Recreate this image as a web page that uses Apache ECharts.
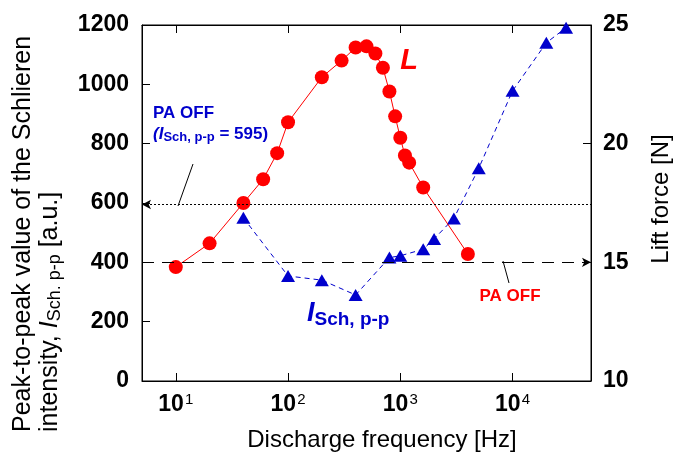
<!DOCTYPE html>
<html>
<head>
<meta charset="utf-8">
<script src="https://cdn.jsdelivr.net/npm/echarts@6/dist/echarts.min.js"></script>
<style>
    html, body { margin: 0; padding: 0; background: #fff; }
    #chart { width: 675px; height: 452px; }
</style>
</head>
<body>
<div id="chart"></div>
<script>
// lift force L [N] (right axis)
const freqL = [10, 20, 40, 60, 80, 100, 200, 300, 400, 500, 600, 700, 800, 900, 1000, 1100, 1200, 1600, 4000];
const liftL = [14.8, 15.8, 17.5, 18.5, 19.6, 20.9, 22.8, 23.5, 24.05, 24.1, 23.8, 23.2, 22.2, 21.15, 20.25, 19.5, 19.2, 18.15, 15.35];

// Schlieren intensity I_Sch,p-p [a.u.] (left axis)
const freqI = [40, 100, 200, 400, 800, 1000, 1600, 2000, 3000, 5000, 10000, 20000, 30000];
const schI = [550, 354, 340, 290, 416, 422, 444, 479, 548, 717, 978, 1140, 1191];

// PA OFF reference levels
const paOffI = 595;
const paOffL = 15;

// labelled decades on the frequency axis
const xDecades = [10, 100, 1000, 10000];

const FONT = '"Liberation Sans", Arial, Helvetica, sans-serif';
const RED = '#ff0000';
const BLUE = '#0000cc';

function decadeLabel(v) {
    let e = Math.log10(v);
    let match = xDecades.some(d => Math.abs(Math.log10(d) - e) < 1e-6);
    if (!match) return '';
    return '{b|10}{s|' + Math.round(e) + '}';
}

let axisLineStyle = { show: true, lineStyle: { color: '#000', width: 1 } };
let tickStyle = { show: true, inside: true, length: 8, lineStyle: { color: '#000' } };
let numLabel = { fontSize: 23, fontWeight: 'bold', fontFamily: FONT, color: '#000', formatter: v => String(v) };

let option = {
    animation: false,
    backgroundColor: '#fff',
    grid: {
        left: 142, right: 84, top: 25, bottom: 71,
        show: true, borderColor: '#000', borderWidth: 1,
        outerBoundsMode: 'none'
    },
    xAxis: [
        {
            type: 'log', logBase: 10, min: 5, max: 50000,
            position: 'bottom',
            axisLine: axisLineStyle,
            axisTick: tickStyle,
            minorTick: { show: false },
            splitLine: { show: false },
            axisLabel: {
                margin: 11,
                formatter: decadeLabel,
                rich: {
                    b: { fontSize: 23, fontWeight: 'bold', fontFamily: FONT, color: '#000', lineHeight: 26, verticalAlign: 'middle' },
                    s: { fontSize: 15, fontFamily: FONT, color: '#000', lineHeight: 14, verticalAlign: 'top', padding: [0, 0, 0, 1] }
                }
            }
        },
        {
            type: 'log', logBase: 10, min: 5, max: 50000,
            position: 'top',
            axisLine: axisLineStyle,
            axisTick: tickStyle,
            splitLine: { show: false },
            axisLabel: { show: false }
        }
    ],
    yAxis: [
        {
            type: 'value', min: 0, max: 1200, interval: 200,
            position: 'left',
            axisLine: axisLineStyle,
            axisTick: tickStyle,
            splitLine: { show: false },
            axisLabel: Object.assign({ margin: 13 }, numLabel)
        },
        {
            type: 'value', min: 10, max: 25, interval: 5,
            position: 'right',
            axisLine: axisLineStyle,
            axisTick: tickStyle,
            splitLine: { show: false },
            axisLabel: Object.assign({ margin: 12 }, numLabel)
        }
    ],
    series: [
        {
            type: 'line',
            name: 'I',
            xAxisIndex: 0, yAxisIndex: 0,
            data: freqI.map((f, i) => [f, schI[i]]),
            symbol: 'triangle',
            symbolSize: [14, 12],
            itemStyle: { color: BLUE },
            lineStyle: { color: BLUE, width: 1, type: [5, 4] },
            z: 2,
            markLine: {
                silent: true,
                symbol: ['arrow', 'none'],
                symbolSize: [7, 9],
                label: { show: false },
                lineStyle: { color: '#000', width: 1, type: [2, 2] },
                data: [[{ coord: [5, paOffI] }, { coord: [50000, paOffI] }]]
            }
        },
        {
            type: 'line',
            name: 'L',
            xAxisIndex: 0, yAxisIndex: 1,
            data: freqL.map((f, i) => [f, liftL[i]]),
            symbol: 'circle',
            symbolSize: 14,
            itemStyle: { color: RED },
            lineStyle: { color: RED, width: 1 },
            z: 3,
            markLine: {
                silent: true,
                symbol: ['none', 'arrow'],
                symbolSize: [7, 9],
                label: { show: false },
                lineStyle: { color: '#000', width: 1, type: [12, 8] },
                data: [[{ coord: [5, paOffL] }, { coord: [50000, paOffL] }]]
            }
        }
    ],
    graphic: [
        // left axis title (two lines, rotated)
        {
            type: 'text', x: 23, y: 432, rotation: Math.PI / 2,
            style: {
                text: 'Peak-to-peak value of the Schlieren',
                fontSize: 25, fontFamily: FONT, fill: '#000',
                align: 'left', verticalAlign: 'middle'
            }
        },
        {
            type: 'text', x: 50, y: 432, rotation: Math.PI / 2,
            style: {
                text: '{n|intensity, }{i|I}{s|Sch. p-p}{n| [a.u.]}',
                fill: '#000', align: 'left', verticalAlign: 'middle',
                rich: {
                    n: { fontSize: 25, fontFamily: FONT, lineHeight: 28, verticalAlign: 'middle' },
                    i: { fontSize: 25, fontFamily: FONT, fontStyle: 'italic', lineHeight: 28, verticalAlign: 'middle' },
                    s: { fontSize: 18, fontFamily: FONT, lineHeight: 14, verticalAlign: 'bottom' }
                }
            }
        },
        // right axis title
        {
            type: 'text', x: 661, y: 199, rotation: Math.PI / 2,
            style: {
                text: 'Lift force [N]',
                fontSize: 24, fontFamily: FONT, fill: '#000',
                align: 'center', verticalAlign: 'middle'
            }
        },
        // x axis title
        {
            type: 'text', x: 382, y: 440,
            style: {
                text: 'Discharge frequency [Hz]',
                fontSize: 24, fontFamily: FONT, fill: '#000',
                align: 'center', verticalAlign: 'middle'
            }
        },
        // series labels
        {
            type: 'text', x: 409, y: 61,
            style: {
                text: 'L', fontSize: 29, fontWeight: 'bold', fontStyle: 'italic',
                fontFamily: FONT, fill: RED, align: 'center', verticalAlign: 'middle'
            }
        },
        {
            type: 'text', x: 307, y: 314,
            style: {
                text: '{i|I}{s|Sch, p-p}',
                fill: BLUE, align: 'left', verticalAlign: 'middle',
                rich: {
                    i: { fontSize: 27, fontWeight: 'bold', fontStyle: 'italic', fontFamily: FONT, lineHeight: 30, verticalAlign: 'middle' },
                    s: { fontSize: 19, fontWeight: 'bold', fontFamily: FONT, lineHeight: 16, verticalAlign: 'bottom' }
                }
            }
        },
        // PA OFF annotations
        {
            type: 'text', x: 153, y: 113,
            style: {
                text: 'PA OFF', fontSize: 17, fontWeight: 'bold', fontFamily: FONT,
                fill: BLUE, align: 'left', verticalAlign: 'middle'
            }
        },
        {
            type: 'text', x: 153, y: 134,
            style: {
                text: '{it|(I}{s|Sch, p-p}{n| = 595)}',
                fill: BLUE, align: 'left', verticalAlign: 'middle',
                rich: {
                    it: { fontSize: 17, fontWeight: 'bold', fontStyle: 'italic', fontFamily: FONT, lineHeight: 20, verticalAlign: 'middle' },
                    s: { fontSize: 13, fontWeight: 'bold', fontFamily: FONT, lineHeight: 12, verticalAlign: 'bottom' },
                    n: { fontSize: 17, fontWeight: 'bold', fontFamily: FONT, lineHeight: 20, verticalAlign: 'middle' }
                }
            }
        },
        {
            type: 'line', shape: { x1: 193, y1: 164, x2: 178, y2: 206 },
            style: { stroke: '#000', lineWidth: 1 }
        },
        {
            type: 'text', x: 510, y: 296,
            style: {
                text: 'PA OFF', fontSize: 17, fontWeight: 'bold', fontFamily: FONT,
                fill: RED, align: 'center', verticalAlign: 'middle'
            }
        },
        {
            type: 'line', shape: { x1: 503, y1: 261, x2: 509, y2: 283 },
            style: { stroke: '#000', lineWidth: 1 }
        }
    ]
};

let chart = echarts.init(document.getElementById('chart'));
chart.setOption(option);
window.addEventListener('resize', function () {
    chart.resize();
});
</script>
</body>
</html>
